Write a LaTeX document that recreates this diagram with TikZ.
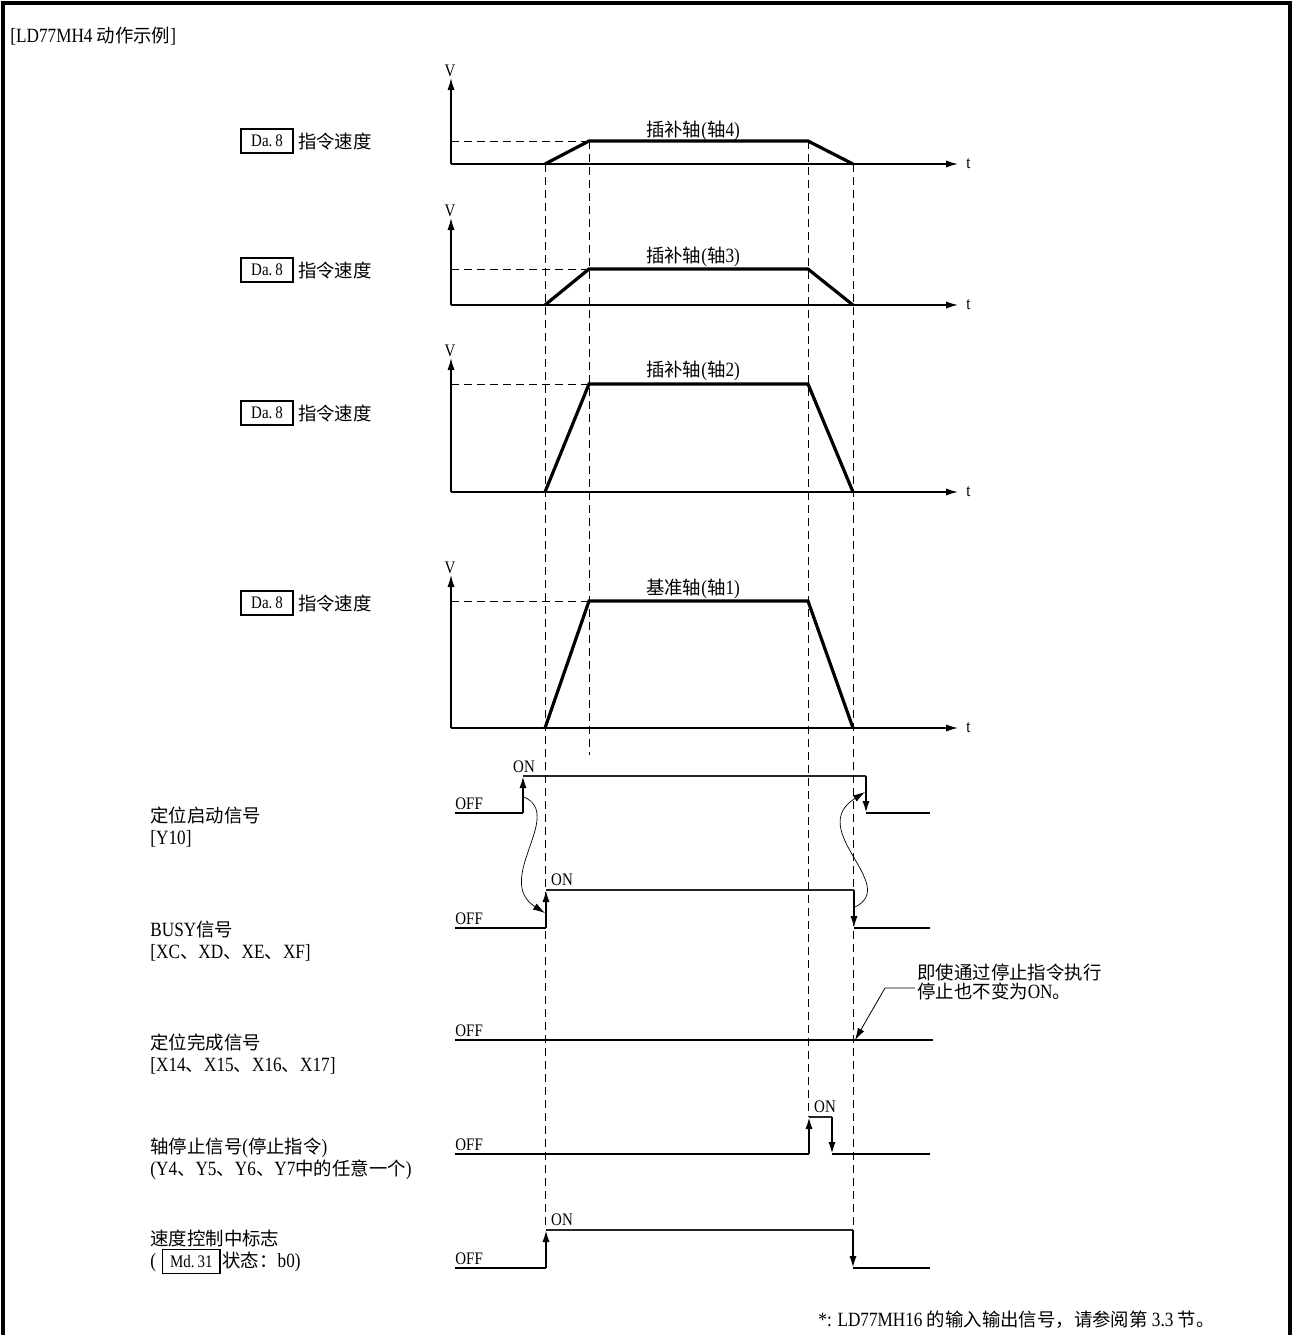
\documentclass[tikz,border=0pt]{standalone}
\usepackage{fontspec}
\setmainfont{Noto Sans CJK SC}
\newfontfamily\lat[FakeStretch=0.85,Scale=1.1]{Liberation Serif}
\usepackage{tikz}
\usetikzlibrary{arrows.meta,positioning}
\newcommand\figsize{\fontsize{9.2pt}{11pt}\selectfont}
\newcommand\lvlsize{\fontsize{8pt}{10pt}\selectfont}
\tikzset{
every picture/.style={line join=miter},
>={Latex[length=6pt,width=3.6pt]},
frame line/.style={draw=black, line width=1.8pt},
speed axis/.style={draw=black, line width=0.7pt, ->},
speed profile/.style={draw=black, line width=1.6pt},
guide dashed/.style={draw=black, line width=0.5pt, dash pattern=on 4pt off 2.5pt},
signal line/.style={draw=black!85, line width=0.8pt},
signal low/.style={draw=black, line width=1.1pt},
signal edge/.style={draw=black, line width=1pt, ->},
handoff/.style={draw=black, line width=0.35pt, ->},
leader/.style={draw=black, line width=0.4pt, ->},
ref box/.style={draw=black, line width=0.6pt, inner sep=0pt, minimum width=26pt, minimum height=12pt, font=\lat\lvlsize},
row label/.style={align=left, anchor=west, inner sep=0pt, font=\figsize},
level text/.style={font=\lat\lvlsize, inner sep=0pt}
}

\begin{document}
\begin{tikzpicture}[x=0.5pt,y=-0.5pt,font=\figsize]
\useasboundingbox (0,0) rectangle (1293,1335);
\draw[frame line] (3,1335) -- (3,3) -- (1290,3) -- (1290,1335);
\node[anchor=west,inner sep=0pt] (title) at (10,36) {{\lat[LD77MH4} 动作示例{\lat]}};

% speed profiles, axis 4 at the top down to the reference axis
\foreach \i/\base/\lev/\tip/\lab/\dy/\kind/\num in {
  1/164/141/78/131/141/插补轴/4,
  2/305/269/218/257/270/插补轴/3,
  3/492/384/358/371/413/插补轴/2,
  4/728/601/575/589/603/基准轴/1}{
  \coordinate (o\i) at (451,\base);
  \coordinate (vt\i) at (451,\tip);
  \coordinate (tt\i) at (958,\base);
  \coordinate (lv\i) at (451,\lev);
  \coordinate (s\i) at (545,\base);
  \coordinate (p\i) at (589,\lev);
  \coordinate (q\i) at (808,\lev);
  \coordinate (e\i) at (853,\base);
  \draw[speed axis] (o\i) -- (vt\i);
  \draw[speed axis] (o\i) -- (tt\i);
  \node[level text] (v\i) at (450,\tip-7) {V};
  \node[level text,right=4pt of tt\i] (t\i) {t};
  \draw[guide dashed] (lv\i) -- (p\i);
  \draw[speed profile] (s\i) -- (p\i) -- (q\i) -- (e\i);
  \node[inner sep=0pt] (ax\i) at (693,\lab) {\kind{\lat(}轴{\lat\num)}};
  \node[ref box] (da\i) at (267,\dy) {Da.\,8};
  \node[right=2pt of da\i,inner sep=0pt] (cmd\i) {指令速度};
}

% positioning start signal
\coordinate (y10 a) at (455,813);
\coordinate (y10 up) at (523,813);
\coordinate (y10 on) at (523,776);
\coordinate (y10 off) at (866,776);
\coordinate (y10 dn) at (866,813);
\coordinate (y10 b) at (930,813);
\draw[signal low] (y10 a) -- (y10 up);
\draw[signal edge] (y10 up) -- (y10 on);
\draw[signal line] (y10 on) -- (y10 off);
\draw[signal edge] (y10 off) -- (y10 dn);
\draw[signal low] (y10 dn) -- (y10 b);
\node[level text,anchor=south west] (y10 offtxt) at (455,810) {OFF};
\node[level text] (y10 ontxt) at (524,767) {ON};

% BUSY
\coordinate (bs a) at (455,928);
\coordinate (bs up) at (546,928);
\coordinate (bs on) at (546,890);
\coordinate (bs off) at (854,890);
\coordinate (bs dn) at (854,928);
\coordinate (bs b) at (930,928);
\draw[signal low] (bs a) -- (bs up);
\draw[signal edge] (bs up) -- (bs on);
\draw[signal line] (bs on) -- (bs off);
\draw[signal edge] (bs off) -- (bs dn);
\draw[signal low] (bs dn) -- (bs b);
\node[level text,anchor=south west] (bs offtxt) at (455,925) {OFF};
\node[level text] (bs ontxt) at (562,880) {ON};

% start -> BUSY and back
\coordinate (y10 mid) at (524,797);
\coordinate (bs mid) at (545,913);
\coordinate (bs fallmid) at (855,907);
\coordinate (y10 fallmid) at (865,792);
\draw[handoff] (y10 mid) .. controls (565,815) and (493,880) .. (bs mid);
\draw[handoff] (bs fallmid) .. controls (900,885) and (805,830) .. (y10 fallmid);

% positioning complete signal
\coordinate (cp a) at (455,1040);
\coordinate (cp b) at (933,1040);
\coordinate (cp hit) at (855,1040);
\draw[signal low] (cp a) -- (cp b);
\node[level text,anchor=south west] (cp offtxt) at (455,1037) {OFF};
\node[anchor=north west,align=left,inner sep=0pt,font=\fontsize{9.2pt}{9.5pt}\selectfont] (note) at (917,964) {即使通过停止指令执行\\停止也不变为{\lat ON}。};
\coordinate (lead start) at (915,988);
\coordinate (lead knee) at (885,988);
\draw[leader] (lead start) -- (lead knee) -- (cp hit);

% axis stop signal
\coordinate (st a) at (455,1154);
\coordinate (st up) at (809,1154);
\coordinate (st on) at (809,1117);
\coordinate (st off) at (832,1117);
\coordinate (st dn) at (832,1154);
\coordinate (st b) at (930,1154);
\draw[signal low] (st a) -- (st up);
\draw[signal edge] (st up) -- (st on);
\draw[signal line] (st on) -- (st off);
\draw[signal edge] (st off) -- (st dn);
\draw[signal low] (st dn) -- (st b);
\node[level text,anchor=south west] (st offtxt) at (455,1151) {OFF};
\node[level text] (st ontxt) at (825,1107) {ON};

% speed control flag
\coordinate (fl a) at (455,1268);
\coordinate (fl up) at (546,1268);
\coordinate (fl on) at (546,1230);
\coordinate (fl off) at (853,1230);
\coordinate (fl dn) at (853,1268);
\coordinate (fl b) at (930,1268);
\draw[signal low] (fl a) -- (fl up);
\draw[signal edge] (fl up) -- (fl on);
\draw[signal line] (fl on) -- (fl off);
\draw[signal edge] (fl off) -- (fl dn);
\draw[signal low] (fl dn) -- (fl b);
\node[level text,anchor=south west] (fl offtxt) at (455,1265) {OFF};
\node[level text] (fl ontxt) at (562,1220) {ON};

% timing guides
\coordinate (p end) at (589,755);
\draw[guide dashed] (s1) -- (s1 |- fl on);
\draw[guide dashed] (p1) -- (p end);
\draw[guide dashed] (q1) -- (q1 |- st on);
\draw[guide dashed] (e1) -- (e1 |- fl dn);

% row labels
\node[row label] (lbl y10) at (150,827) {定位启动信号\\{\lat[Y10]}};
\node[row label] (lbl busy) at (150,941) {{\lat BUSY}信号\\{\lat[XC}、{\lat XD}、{\lat XE}、{\lat XF]}};
\node[row label] (lbl cp) at (150,1054) {定位完成信号\\{\lat[X14}、{\lat X15}、{\lat X16}、{\lat X17]}};
\node[row label] (lbl st) at (150,1159) {轴停止信号{\lat(}停止指令{\lat)}\\{\lat(Y4}、{\lat Y5}、{\lat Y6}、{\lat Y7}中的任意一个{\lat)}};
\node[row label] (lbl fl) at (150,1252) {速度控制中标志\\{\lat(}\hspace{3pt}{\setlength\fboxsep{0pt}\setlength\fboxrule{0.6pt}\fbox{\makebox[28pt]{\rule[-3pt]{0pt}{11.5pt}\lat\lvlsize Md.\,31}}}\hspace{1pt}状态：{\lat b0)}};

\node[anchor=west,inner sep=0pt] (foot) at (818,1320) {{\lat *: LD77MH16 }的输入输出信号，请参阅第{\lat\ 3.3 }节。};
\end{tikzpicture}
\end{document}
